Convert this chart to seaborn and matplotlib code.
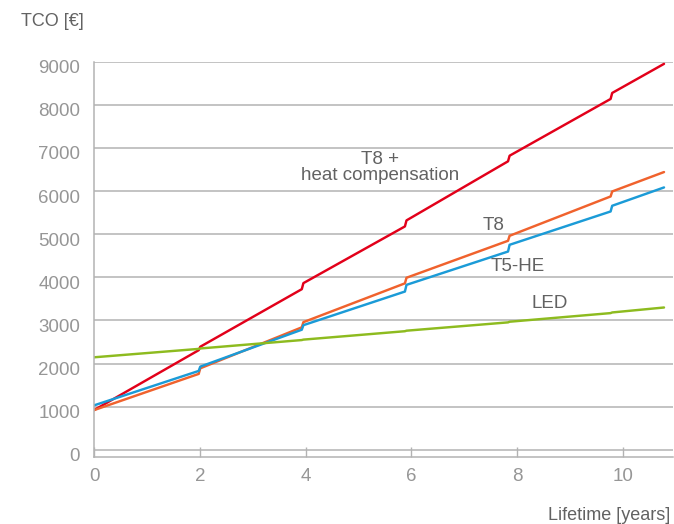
import numpy as np
import pandas as pd
import seaborn as sns
import matplotlib.pyplot as plt
import matplotlib.transforms as mtransforms

# Werte (Sprünge = Lampenwechsel)
sprung_jahre = [1.98, 3.93, 5.88, 7.83, 9.77]
ende_jahr = 10.78

t8hc_start = 920
t8hc_vor = [2310, 3725, 5180, 6690, 8136]
t8hc_nach = [2390, 3865, 5320, 6820, 8275]
t8hc_ende = 8950

t8_start = 920
t8_vor = [1760, 2840, 3860, 4847, 5875]
t8_nach = [1890, 2960, 3990, 4963, 5991]
t8_ende = 6441

t5_start = 1030
t5_vor = [1829, 2785, 3670, 4598, 5527]
t5_nach = [1929, 2890, 3825, 4754, 5659]
t5_ende = 6084

led_start = 2145
led_vor = [2340, 2545, 2750, 2955, 3170]
led_nach = [2350, 2555, 2762, 2970, 3185]
led_ende = 3300

farben = {'T8 + heat compensation': '#e2001a', 'T8': '#f0622d',
          'T5-HE': '#1b9bd7', 'LED': '#8dbb1f'}


def kurve(name, start, vor, nach, ende):
    xs = [0.0]
    ys = [start]
    for j, v, n in zip(sprung_jahre, vor, nach):
        xs += [j, j + 0.03]
        ys += [v, n]
    xs.append(ende_jahr)
    ys.append(ende)
    return pd.DataFrame({'jahr': xs, 'tco': ys, 'lampe': name})


df = pd.concat([
    kurve('T8 + heat compensation', t8hc_start, t8hc_vor, t8hc_nach, t8hc_ende),
    kurve('T8', t8_start, t8_vor, t8_nach, t8_ende),
    kurve('T5-HE', t5_start, t5_vor, t5_nach, t5_ende),
    kurve('LED', led_start, led_vor, led_nach, led_ende),
], ignore_index=True)

sns.set_theme(style='white')
plt.rcParams['font.family'] = ['Liberation Sans', 'DejaVu Sans']

grau = '#b3b3b3'
fig = plt.figure(figsize=(6.74, 5.24), dpi=100)
ax = fig.add_axes([94 / 674, 1 - 456.7 / 524, 579 / 674, 395 / 524])

ax.set_yticks(range(0, 9001, 1000))
ax.yaxis.grid(True, color=grau, linewidth=1.1)
ax.set_axisbelow(True)

sns.lineplot(data=df, x='jahr', y='tco', hue='lampe', palette=farben,
             estimator=None, sort=False, linewidth=1.75, legend=False, ax=ax)

ax.set_xlim(0, 10.95)
ax.set_ylim(-160, 9000)
ax.set_xticks(range(0, 11, 2))
ax.set_xlabel('')
ax.set_ylabel('')

for s in ['top', 'right']:
    ax.spines[s].set_visible(False)
for s in ['left', 'bottom']:
    ax.spines[s].set_color(grau)
    ax.spines[s].set_linewidth(1.1)

ax.tick_params(axis='x', direction='in', length=7.5, width=1.0, color=grau,
               labelsize=13.5, labelcolor='#969696', pad=8, bottom=True)
ax.tick_params(axis='y', length=0, labelsize=13.5, labelcolor='#969696', pad=10)

# Y-Beschriftungen leicht unter den Gitterlinien wie im Original
versatz = mtransforms.ScaledTranslation(0, -5 / 100, fig.dpi_scale_trans)
for lbl in ax.get_yticklabels():
    lbl.set_transform(lbl.get_transform() + versatz)

text_farbe = '#626262'
ax.text(5.41, 6540, 'T8 +\nheat compensation', ha='center', va='center',
        fontsize=13.5, color=text_farbe, linespacing=0.95)
ax.text(7.55, 5210, 'T8', ha='center', va='center', fontsize=13.5, color=text_farbe)
ax.text(8.02, 4240, 'T5-HE', ha='center', va='center', fontsize=13.5, color=text_farbe)
ax.text(8.62, 3390, 'LED', ha='center', va='center', fontsize=13.5, color=text_farbe)

fig.text(21 / 674, 1 - 21.7 / 524, 'TCO [€]', ha='left', va='center',
         fontsize=13, color=text_farbe)
fig.text(670 / 674, 1 - 515.7 / 524, 'Lifetime [years]', ha='right', va='center',
         fontsize=13, color=text_farbe)

fig.savefig('out.png', dpi=100)
